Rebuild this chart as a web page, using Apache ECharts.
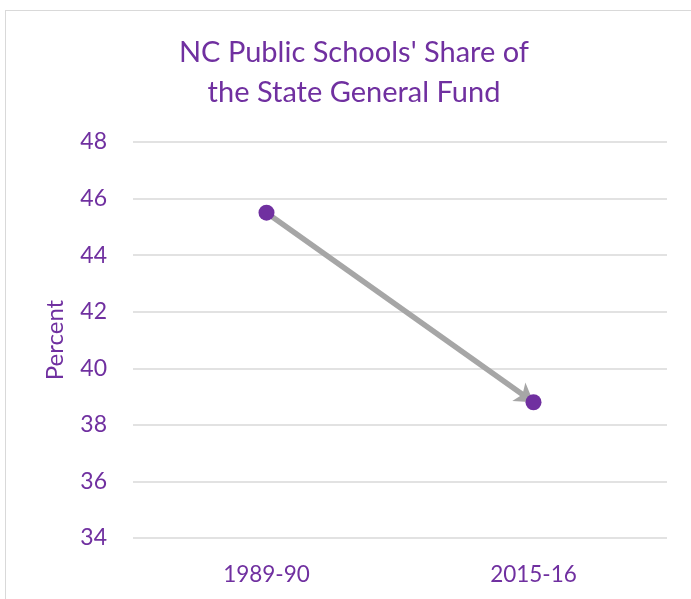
<!DOCTYPE html>
<html>
<head>
<meta charset="utf-8">
<script src="https://cdn.jsdelivr.net/npm/echarts@6/dist/echarts.min.js"></script>
<style>
  html, body { margin: 0; padding: 0; background: #fff; }
  #frame { position: absolute; left: 5px; top: 10px; width: 700px; height: 600px; border: 1px solid #d9d9d9; box-sizing: border-box; }
  #chart { position: absolute; left: 0; top: 0; width: 691px; height: 599px; }
</style>
</head>
<body>
<div id="frame"></div>
<div id="chart"></div>
<script>
// data
const years = ["1989-90", "2015-16"];
const share = [45.5, 38.8];
const yTicks = { min: 34, max: 48, step: 2 };

const purple = "#7030A0";
const font = "Lato, 'Open Sans', sans-serif";

const chart = echarts.init(document.getElementById("chart"), null, { renderer: "canvas" });

const option = {
  backgroundColor: "transparent",
  title: {
    text: "NC Public Schools' Share of\nthe State General Fund",
    left: 349,
    textAlign: "center",
    top: 28,
    textStyle: { color: purple, fontFamily: font, fontWeight: "normal", fontSize: 29, lineHeight: 40 }
  },
  grid: { left: 133, right: 24, top: 142, bottom: 61 },
  xAxis: {
    type: "category",
    data: years,
    boundaryGap: true,
    axisLine: { show: false },
    axisTick: { show: false },
    axisLabel: { color: purple, fontFamily: font, fontSize: 22.5, margin: 25 }
  },
  yAxis: {
    type: "value",
    min: yTicks.min,
    max: yTicks.max,
    interval: yTicks.step,
    name: "Percent",
    nameLocation: "middle",
    nameRotate: 90,
    nameGap: 66,
    nameTextStyle: { color: purple, fontFamily: font, fontSize: 24 },
    axisLine: { show: false },
    axisTick: { show: false },
    axisLabel: { color: purple, fontFamily: font, fontSize: 23, margin: 26 },
    splitLine: { lineStyle: { color: "#d9d9d9", width: 1.5 } }
  },
  series: [
    {
      // gray arrow from first to last value
      type: "line",
      data: share,
      showSymbol: false,
      lineStyle: { opacity: 0 },
      silent: true,
      markLine: {
        silent: true,
        symbol: ["none", "arrow"],
        symbolSize: [17, 18],
        label: { show: false },
        lineStyle: { color: "#a6a6a6", width: 5.5, type: "solid" },
        data: [[
          { coord: [0, share[0]] },
          { coord: [1, share[1]] }
        ]]
      },
      z: 2
    },
    {
      type: "scatter",
      data: share,
      symbolSize: 16,
      itemStyle: { color: purple, opacity: 1 },
      z: 5
    }
  ]
};

chart.setOption(option);
</script>
</body>
</html>
